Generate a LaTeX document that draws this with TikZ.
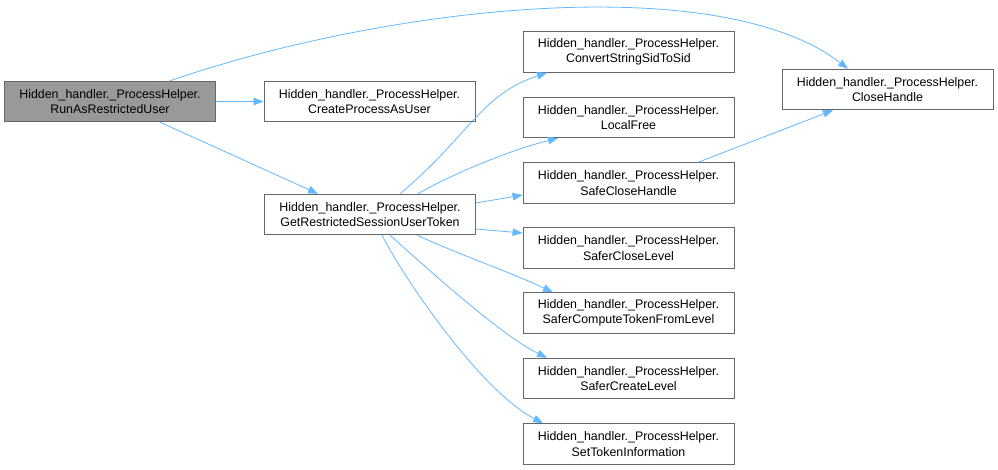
\documentclass[tikz,border=0pt]{standalone}
\usepackage{fontspec}
\setmainfont{Liberation Sans}
\usetikzlibrary{arrows.meta}
\definecolor{edgeblue}{HTML}{63B8FF}
\definecolor{boxborder}{HTML}{666666}
\definecolor{boxfill}{HTML}{999999}
\begin{document}
\begin{tikzpicture}[x=1pt,y=-1pt,
  fn/.style={draw=boxborder,line width=0.9pt,fill=white,minimum width=211pt,minimum height=40.5pt,
    inner sep=0pt,align=center,font=\fontsize{12.4}{15.5}\selectfont},
  cur/.style={fn,fill=boxfill},
  call/.style={draw=edgeblue,line width=0.8pt,-{Triangle[length=10pt,width=7.5pt]}}]
\useasboundingbox (0,0) rectangle (998,470);
\node[cur] (A) at (110,101.5) {Hidden\_handler.\_ProcessHelper.\\RunAsRestrictedUser};
\node[fn] (B) at (369.5,101.5) {Hidden\_handler.\_ProcessHelper.\\CreateProcessAsUser};
\node[fn] (C) at (370,214.5) {Hidden\_handler.\_ProcessHelper.\\GetRestrictedSessionUserToken};
\node[fn] (D) at (628.5,52) {Hidden\_handler.\_ProcessHelper.\\ConvertStringSidToSid};
\node[fn] (E) at (628.5,117.5) {Hidden\_handler.\_ProcessHelper.\\LocalFree};
\node[fn] (F) at (628.5,183) {Hidden\_handler.\_ProcessHelper.\\SafeCloseHandle};
\node[fn] (G) at (628.5,248) {Hidden\_handler.\_ProcessHelper.\\SaferCloseLevel};
\node[fn] (H) at (628.5,313) {Hidden\_handler.\_ProcessHelper.\\SaferComputeTokenFromLevel};
\node[fn] (I) at (628.5,378.5) {Hidden\_handler.\_ProcessHelper.\\SaferCreateLevel};
\node[fn] (J) at (628.5,444) {Hidden\_handler.\_ProcessHelper.\\SetTokenInformation};
\node[fn] (K) at (887.5,89.5) {Hidden\_handler.\_ProcessHelper.\\CloseHandle};

\draw[call] ([xshift=60pt]A.north) .. controls (390,5) and (720,-30) .. ([xshift=-39.5pt]K.north);
\draw[call] (A.east) -- (B.west);
\draw[call] ([xshift=50pt]A.south) -- ([xshift=-52pt]C.north);
\draw[call] ([xshift=30pt]C.north) .. controls (470,135) and (480,95) .. ([xshift=-81.5pt]D.south);
\draw[call] ([xshift=48pt]C.north) .. controls (450,175) and (510,150) .. ([xshift=-70.5pt]E.south);
\draw[call] ([yshift=11.5pt]C.east) -- ([yshift=-12pt]F.west);
\draw[call] ([yshift=-14.5pt]C.east) -- ([yshift=15pt]G.west);
\draw[call] ([xshift=47pt]C.south) .. controls (460,255) and (510,272) .. ([xshift=-75.5pt]H.north);
\draw[call] ([xshift=20pt]C.south) .. controls (420,262) and (500,335) .. ([xshift=-81.5pt]I.north);
\draw[call] ([xshift=12pt]C.south) .. controls (405,280) and (480,390) .. ([xshift=-85.5pt]J.north);
\draw[call] ([xshift=69.5pt]F.north) .. controls (740,146) and (790,127) .. ([xshift=-54.5pt]K.south);
\end{tikzpicture}
\end{document}
